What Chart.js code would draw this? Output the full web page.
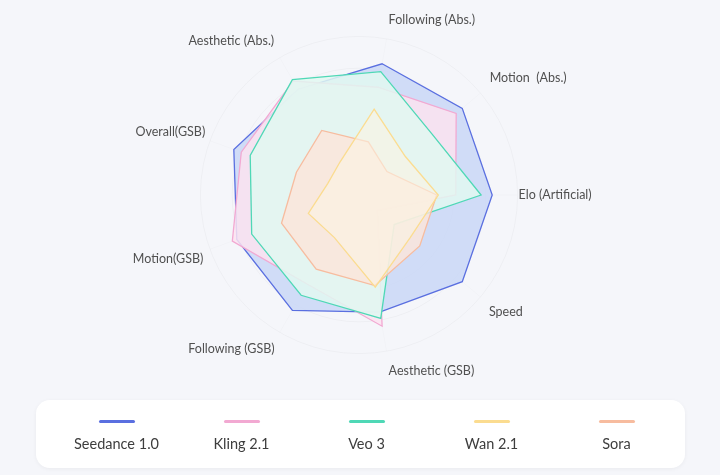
<!DOCTYPE html>
<html>
<head>
<meta charset="utf-8">
<script src="https://cdn.jsdelivr.net/npm/chart.js@4/dist/chart.umd.min.js"></script>
<style>
  html, body { margin: 0; padding: 0; background: #f5f6fa; }
  body { width: 720px; height: 475px; position: relative; overflow: hidden; font-family: Lato, "Noto Sans", sans-serif; }
  #chartWrap { position: absolute; left: 0; top: 0; width: 720px; height: 400px; }
  #leyenda {
    position: absolute; left: 36px; top: 400px; width: 649px; height: 68px;
    background: #fff; border-radius: 14px; box-shadow: 0 1px 4px rgba(0,0,0,0.05);
    box-sizing: border-box; padding-left: 18px;
    display: grid; grid-template-columns: repeat(5, 125px);
  }
  .item { position: relative; text-align: center; }
  .item .linea { position: absolute; left: 50%; top: 20px; width: 36px; height: 3px; margin-left: -18px; border-radius: 2px; }
  .item .texto { position: absolute; left: 0; right: 0; top: 35px; font-size: 14.5px; color: #3d3d3d; }
</style>
</head>
<body>
<div id="chartWrap"><canvas id="radar"></canvas></div>
<div id="leyenda"></div>
<script>
// Ejes del radar
const ejes = ['Following (Abs.)', 'Motion  (Abs.)', 'Elo (Artificial)', 'Speed', 'Aesthetic (GSB)',
              'Following (GSB)', 'Motion(GSB)', 'Overall(GSB)', 'Aesthetic (Abs.)'];

// Valores por modelo (0-100)
const seedance = [84, 85, 84, 85, 75, 84, 82, 84, 77];
const kling    = [69, 80, 61, 15, 84, 65, 85, 79, 83];
const veo      = [79, 60, 77, 29, 79, 73, 72, 73, 84];
const wan      = [55, 38, 50, 42, 59, 31, 34, 21, 24];
const sora     = [34, 23, 49, 50, 58, 54, 52, 42, 47];

const modelos = ['Seedance 1.0', 'Kling 2.1', 'Veo 3', 'Wan 2.1', 'Sora'];
const series = [seedance, kling, veo, wan, sora];

const bordes = ['#5a6fe0', '#f2a9d2', '#4fd8b6', '#fbdc90', '#f7bc9f'];
const rellenos = [
    'rgba(195, 211, 246, 0.75)',
    'rgba(251, 227, 240, 0.85)',
    'rgba(226, 248, 241, 0.85)',
    'rgba(252, 244, 226, 0.6)',
    'rgba(253, 229, 218, 0.8)'
];
// orden de dibujo: el mayor queda abajo
const ordenDibujo = [5, 4, 3, 1, 2];

// separación de cada etiqueta respecto al borde
const paddingEtiquetas = [12, 12, 1, 11, 12, 10, 7, 5, 11];

function crearRadar(ctx) {
    return new Chart(ctx, {
        type: 'radar',
        data: {
            labels: ejes,
            datasets: series.map((datos, i) => ({
                label: modelos[i],
                data: datos,
                borderColor: bordes[i],
                backgroundColor: rellenos[i],
                borderWidth: 1.3,
                pointRadius: 0,
                fill: true,
                order: ordenDibujo[i]
            }))
        },
        options: {
            responsive: true,
            maintainAspectRatio: false,
            animation: false,
            layout: { padding: { top: 13, bottom: 21, left: 0, right: 2 } },
            plugins: {
                legend: { display: false },
                tooltip: { enabled: false }
            },
            scales: {
                r: {
                    min: 0,
                    max: 100,
                    startAngle: 10,
                    ticks: { display: false, stepSize: 20 },
                    grid: { circular: true, color: 'rgba(0, 0, 0, 0.03)' },
                    angleLines: { color: 'rgba(0, 0, 0, 0.015)' },
                    pointLabels: {
                        color: '#505050',
                        font: { family: 'Lato', size: 12.5 },
                        padding: (c) => paddingEtiquetas[c.index]
                    }
                }
            }
        }
    });
}

function crearLeyenda() {
    const cont = document.getElementById('leyenda');
    modelos.forEach((nombre, i) => {
        const item = document.createElement('div');
        item.className = 'item';
        item.innerHTML = `<div class="linea" style="background:${bordes[i]}"></div><div class="texto">${nombre}</div>`;
        cont.appendChild(item);
    });
}

crearRadar(document.getElementById('radar'));
crearLeyenda();
</script>
</body>
</html>
